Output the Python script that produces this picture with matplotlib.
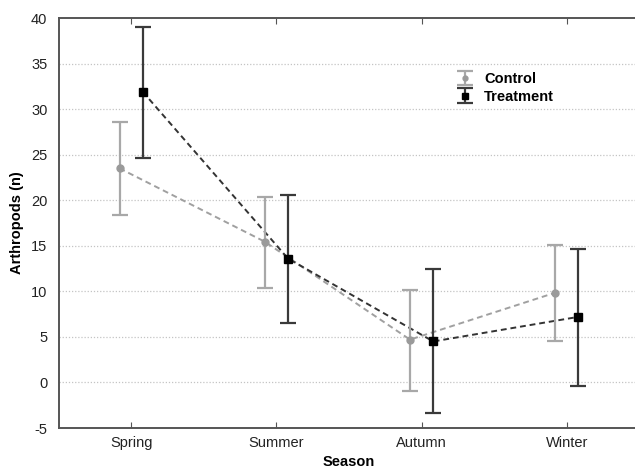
import numpy as np
import matplotlib.pyplot as plt

plt.rcParams['font.family'] = ['Liberation Sans', 'DejaVu Sans']
plt.rcParams['axes.unicode_minus'] = False

# Data
seasons = ['Spring', 'Summer', 'Autumn', 'Winter']

control_mean = [23.5, 15.45, 4.7, 9.85]
control_low = [18.4, 10.33, -0.94, 4.6]
control_high = [28.6, 20.3, 10.15, 15.1]

treat_mean = [31.9, 13.6, 4.5, 7.2]
treat_low = [24.6, 6.5, -3.4, -0.36]
treat_high = [39.0, 20.6, 12.4, 14.6]

x = np.arange(len(seasons))
offset = 0.08

fig = plt.figure(figsize=(6.35, 4.75), dpi=100)
ax = fig.add_axes([58.5 / 635, 47 / 475, 581 / 635, 410 / 475])

cm = np.array(control_mean)
tm = np.array(treat_mean)
c_err = [cm - np.array(control_low), np.array(control_high) - cm]
t_err = [tm - np.array(treat_low), np.array(treat_high) - tm]

ax.errorbar(x - offset, cm, yerr=c_err, fmt='o', color='#9a9a9a', ms=5,
            ecolor='#a8a8a8', elinewidth=1.6, capsize=5.5, capthick=1.6,
            label='Control', zorder=3)
ax.plot(x - offset, cm, ls=(0, (3, 2)), color='#a0a0a0', lw=1.4, zorder=2)

ax.errorbar(x + offset, tm, yerr=t_err, fmt='s', color='#000000', ms=6,
            ecolor='#3a3a3a', elinewidth=1.6, capsize=5.5, capthick=1.6,
            label='Treatment', zorder=4)
ax.plot(x + offset, tm, ls=(0, (3, 2)), color='#333333', lw=1.4, zorder=2)

ax.set_xlim(-0.5, 3.5)
ax.set_ylim(-5, 40)
ax.set_xticks(x)
ax.set_xticklabels(seasons)
ax.set_yticks(np.arange(-5, 41, 5))

for v in range(0, 40, 5):
    ax.axhline(v, color='#c4c4c4', lw=0.9, ls=(0, (1, 1.5)), zorder=1)

for side in ['left', 'top', 'bottom']:
    ax.spines[side].set_color('#555555')
    ax.spines[side].set_linewidth(1.4)
ax.spines['right'].set_visible(False)

ax.tick_params(axis='x', direction='in', length=4, top=True, color='#555555',
               labelsize=10.5, pad=6, labelcolor='#222222')
ax.tick_params(axis='y', length=0, labelsize=10.5, pad=8, labelcolor='#222222')

ax.set_xlabel('Season', fontsize=10.5, fontweight='bold', labelpad=3)
ax.set_ylabel('Arthropods (n)', fontsize=10.5, fontweight='bold', labelpad=5)

leg = ax.legend(loc='upper left', bbox_to_anchor=(0.665, 0.90), frameon=False,
                prop={'weight': 'bold', 'size': 10.5}, handlelength=1.0,
                handletextpad=0.8, labelspacing=0.25, markerscale=0.7)

fig.savefig('out.png', dpi=100)
